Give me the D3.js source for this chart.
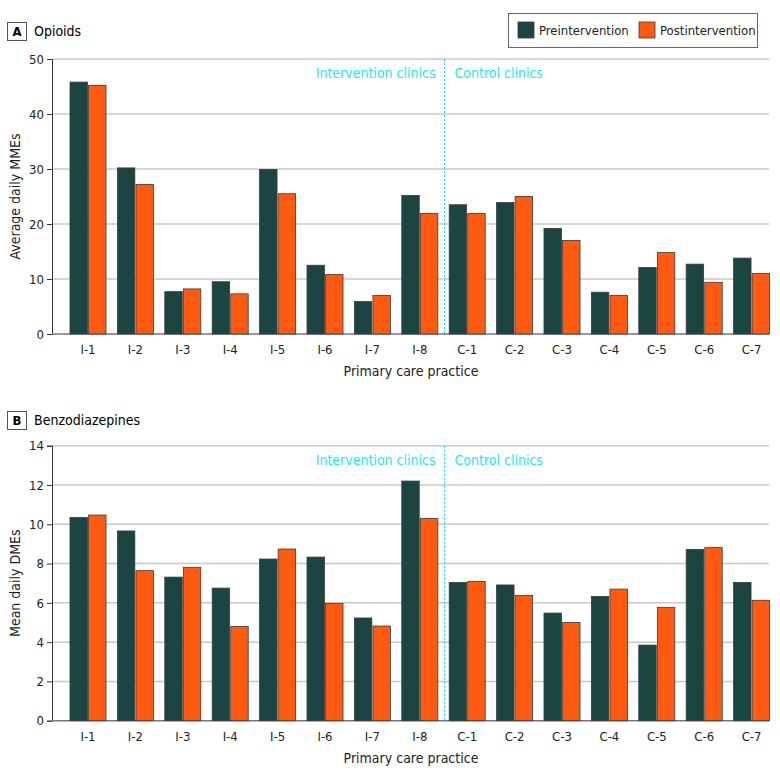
<!DOCTYPE html>
<html>
<head>
<meta charset="utf-8">
<script src="https://cdn.jsdelivr.net/npm/d3@7"></script>
<style>
  body { margin: 0; background: #fff; }
  svg text { font-family: "DejaVu Sans Condensed", "Liberation Sans Narrow", "Noto Sans", sans-serif; }
</style>
</head>
<body>
<div id="chart"></div>
<script>
var practices = ['I-1','I-2','I-3','I-4','I-5','I-6','I-7','I-8',
                 'C-1','C-2','C-3','C-4','C-5','C-6','C-7'];
var seriesNames = ['Preintervention', 'Postintervention'];
var colors = ['#1b4543', '#fe5a12'];

// Panel A: average daily MMEs
var opioidPre  = [45.8, 30.2, 7.7, 9.5, 29.9, 12.5, 5.9, 25.2, 23.5, 23.9, 19.2, 7.6, 12.1, 12.7, 13.8];
var opioidPost = [45.2, 27.2, 8.2, 7.3, 25.5, 10.8, 7.0, 21.9, 21.9, 25.0, 17.0, 7.0, 14.8, 9.4, 11.0];
var opioidTicks = [0, 10, 20, 30, 40, 50];

// Panel B: mean daily DMEs
var benzoPre  = [10.35, 9.66, 7.31, 6.75, 8.23, 8.33, 5.23, 12.2, 7.04, 6.91, 5.48, 6.33, 3.85, 8.72, 7.04];
var benzoPost = [10.47, 7.64, 7.81, 4.80, 8.74, 5.97, 4.82, 10.3, 7.09, 6.38, 5.00, 6.70, 5.77, 8.81, 6.13];
var benzoTicks = [0, 2, 4, 6, 8, 10, 12, 14];

var width = 780, height = 775;
var axisX = 52, gridEnd = 769;

var svg = d3.select("#chart").append("svg")
  .attr("width", width)
  .attr("height", height);

var x = d3.scaleBand()
  .domain(practices)
  .range([64.3, 775.3])
  .paddingInner(0.24)
  .paddingOuter(0.12);

var xSub = d3.scaleBand()
  .domain(seriesNames)
  .range([0, x.bandwidth()])
  .paddingInner(0.06);

function panel(opts) {
  var g = svg.append("g");
  var y = d3.scaleLinear().domain([0, opts.max]).range([opts.bottom, opts.top]);

  // letter box + title
  g.append("rect")
    .attr("x", 7.5).attr("y", opts.titleY - 13.5)
    .attr("width", 19).attr("height", 18)
    .attr("fill", "#fff").attr("stroke", "#555");
  g.append("text")
    .attr("x", 17).attr("y", opts.titleY)
    .attr("text-anchor", "middle")
    .style("font-size", "13px").style("font-weight", "bold")
    .text(opts.letter);
  g.append("text")
    .attr("x", 34).attr("y", opts.titleY)
    .style("font-size", "14px")
    .text(opts.title);

  // gridlines
  g.selectAll("line.grid")
    .data(opts.ticks.filter(function(t) { return t > 0; }))
    .enter().append("line")
    .attr("class", "grid")
    .attr("x1", axisX).attr("x2", gridEnd)
    .attr("y1", function(d) { return y(d); })
    .attr("y2", function(d) { return y(d); })
    .attr("stroke", "#c8c8c8").attr("stroke-width", 1.5);

  // y axis
  var yAxis = g.append("g")
    .attr("transform", "translate(" + axisX + ",0)")
    .call(d3.axisLeft(y).tickValues(opts.ticks).tickSize(5).tickPadding(3));
  yAxis.select(".domain").attr("stroke", "#333");
  yAxis.selectAll(".tick line").attr("stroke", "#333");
  yAxis.selectAll("text").style("font-size", "13px").attr("fill", "#222")
    .style("font-family", "\"DejaVu Sans Condensed\", \"Liberation Sans Narrow\", sans-serif");

  // baseline
  g.append("line")
    .attr("x1", axisX).attr("x2", gridEnd)
    .attr("y1", y(0)).attr("y2", y(0))
    .attr("stroke", "#777").attr("stroke-width", 1.5);

  // divider between intervention and control clinics
  var divX = Math.round(x('C-1') - x.step() * x.paddingInner() / 2) + 0.5;
  g.append("line")
    .attr("x1", divX).attr("x2", divX)
    .attr("y1", opts.top).attr("y2", opts.bottom)
    .attr("stroke", "#00e0ee").attr("stroke-width", 1)
    .attr("stroke-dasharray", "2,2");
  g.append("text")
    .attr("x", divX - 9).attr("y", opts.top + 19)
    .attr("text-anchor", "end")
    .attr("fill", "#1ee8f4").style("font-size", "14px")
    .text("Intervention clinics");
  g.append("text")
    .attr("x", divX + 10).attr("y", opts.top + 19)
    .attr("fill", "#1ee8f4").style("font-size", "14px")
    .text("Control clinics");

  // bars
  var rows = practices.map(function(p, i) {
    return { practice: p, values: [opts.pre[i], opts.post[i]] };
  });
  var groups = g.selectAll("g.practice")
    .data(rows)
    .enter().append("g")
    .attr("class", "practice")
    .attr("transform", function(d) { return "translate(" + x(d.practice) + ",0)"; });
  groups.selectAll("rect")
    .data(function(d) { return d.values.map(function(v, j) { return { s: seriesNames[j], v: v, j: j }; }); })
    .enter().append("rect")
    .attr("x", function(d) { return xSub(d.s); })
    .attr("width", xSub.bandwidth())
    .attr("y", function(d) { return y(d.v); })
    .attr("height", function(d) { return y(0) - y(d.v); })
    .attr("fill", function(d) { return colors[d.j]; })
    .attr("stroke", "#3a3a3a").attr("stroke-width", 0.8);

  // x tick labels
  g.selectAll("text.xlab")
    .data(practices)
    .enter().append("text")
    .attr("class", "xlab")
    .attr("x", function(d) { return x(d) + x.bandwidth() / 2; })
    .attr("y", opts.bottom + 20)
    .attr("text-anchor", "middle")
    .attr("fill", "#222")
    .style("font-size", "13px")
    .text(function(d) { return d; });

  // axis titles
  g.append("text")
    .attr("x", 411).attr("y", opts.bottom + 42)
    .attr("text-anchor", "middle")
    .attr("fill", "#222")
    .style("font-size", "14px")
    .text("Primary care practice");
  g.append("text")
    .attr("transform", "translate(20," + ((opts.top + opts.bottom) / 2) + ") rotate(-90)")
    .attr("text-anchor", "middle")
    .attr("fill", "#222")
    .style("font-size", "14px")
    .text(opts.yLabel);
}

panel({ letter: 'A', title: 'Opioids', titleY: 36, top: 59, bottom: 334, max: 50,
        ticks: opioidTicks, pre: opioidPre, post: opioidPost, yLabel: 'Average daily MMEs' });
panel({ letter: 'B', title: 'Benzodiazepines', titleY: 425, top: 445.7, bottom: 720.7, max: 14,
        ticks: benzoTicks, pre: benzoPre, post: benzoPost, yLabel: 'Mean daily DMEs' });

// legend
var legend = svg.append("g");
legend.append("rect")
  .attr("x", 508.5).attr("y", 13.5).attr("width", 249).attr("height", 34)
  .attr("fill", "#fff").attr("stroke", "#666");
var items = legend.selectAll("g.item")
  .data(seriesNames)
  .enter().append("g")
  .attr("class", "item")
  .attr("transform", function(d, i) { return "translate(" + (518 + i * 121) + ",22)"; });
items.append("rect")
  .attr("width", 16).attr("height", 16)
  .attr("fill", function(d, i) { return colors[i]; })
  .attr("stroke", "#3a3a3a").attr("stroke-width", 0.8);
items.append("text")
  .attr("x", 21).attr("y", 13)
  .attr("fill", "#222")
  .style("font-size", "13px")
  .text(function(d) { return d; });
</script>
</body>
</html>
